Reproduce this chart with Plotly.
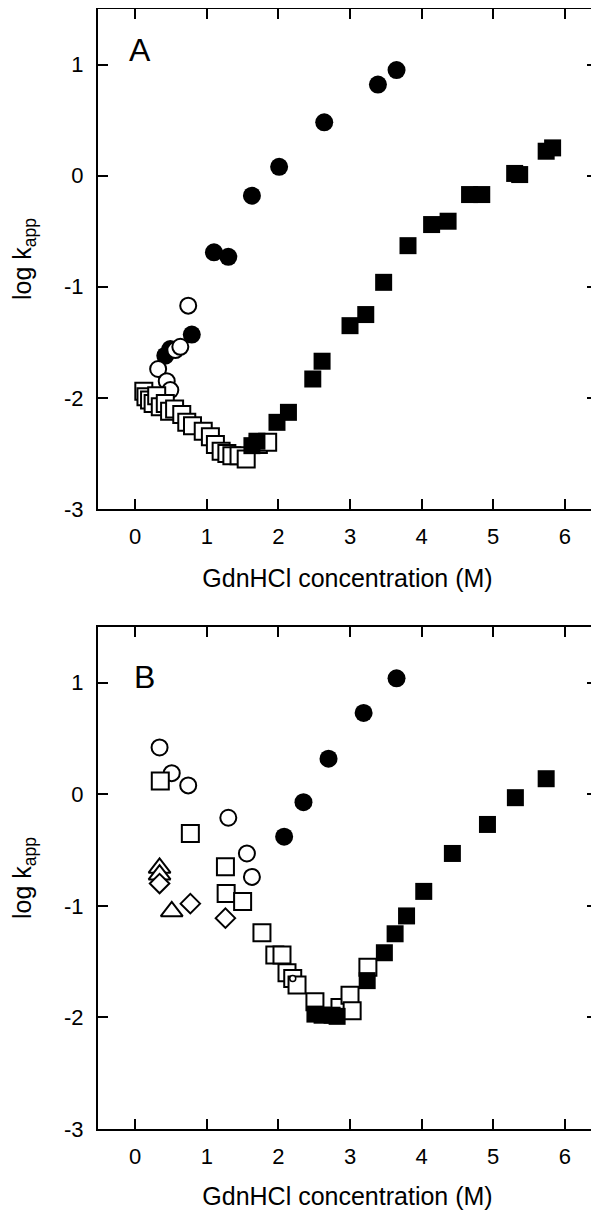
import plotly.graph_objects as go

# ---------------- Panel A data ----------------
a_filled_circle_x = [0.42, 0.49, 0.79, 1.10, 1.30, 1.63, 2.01, 2.64, 3.39, 3.65]
a_filled_circle_y = [-1.62, -1.56, -1.43, -0.69, -0.73, -0.18, 0.08, 0.48, 0.82, 0.95]

a_open_circle_x = [0.74, 0.56, 0.63, 0.32, 0.44, 0.49]
a_open_circle_y = [-1.17, -1.57, -1.54, -1.74, -1.85, -1.93]

a_open_square_x = [0.12, 0.15, 0.20, 0.25, 0.30, 0.35, 0.42, 0.48, 0.55, 0.65, 0.72,
                   0.80, 0.95, 1.05, 1.12, 1.20, 1.28, 1.35, 1.45, 1.55, 1.72, 1.85]
a_open_square_y = [-1.94, -1.99, -2.02, -2.05, -1.98, -2.08, -2.05, -2.12, -2.10, -2.15, -2.22,
                   -2.25, -2.30, -2.35, -2.42, -2.48, -2.50, -2.52, -2.52, -2.55, -2.42, -2.40]

a_filled_square_x = [1.63, 1.70, 1.98, 2.14, 2.48, 2.61, 3.00, 3.22, 3.47, 3.81, 4.14, 4.37,
                     4.67, 4.84, 5.30, 5.37, 5.74, 5.83]
a_filled_square_y = [-2.43, -2.39, -2.22, -2.13, -1.83, -1.67, -1.35, -1.25, -0.96, -0.63, -0.44, -0.41,
                     -0.17, -0.17, 0.02, 0.01, 0.22, 0.25]

# ---------------- Panel B data ----------------
b_filled_circle_x = [2.08, 2.35, 2.70, 3.19, 3.65]
b_filled_circle_y = [-0.38, -0.07, 0.32, 0.73, 1.04]

b_open_circle_x = [0.34, 0.51, 0.74, 1.30, 1.56, 1.63]
b_open_circle_y = [0.42, 0.19, 0.08, -0.21, -0.53, -0.74]

b_open_square_x = [0.35, 0.77, 1.26, 1.27, 1.50, 1.77, 1.95, 2.05, 2.12, 2.20, 2.26,
                   2.51, 2.86, 3.00, 3.03, 3.25]
b_open_square_y = [0.12, -0.35, -0.65, -0.89, -0.96, -1.24, -1.44, -1.44, -1.60, -1.65, -1.71,
                   -1.86, -1.91, -1.80, -1.94, -1.55]

b_small_circle_x = [2.20]
b_small_circle_y = [-1.65]

b_filled_square_x = [2.51, 2.61, 2.75, 2.82, 3.24, 3.48, 3.63, 3.79, 4.03, 4.43, 4.92, 5.31, 5.74]
b_filled_square_y = [-1.97, -1.98, -1.98, -1.99, -1.67, -1.42, -1.25, -1.09, -0.87, -0.53, -0.27, -0.03, 0.14]

b_triangle_x = [0.34, 0.34, 0.51]
b_triangle_y = [-0.66, -0.72, -1.05]

b_diamond_x = [0.34, 0.77, 1.26]
b_diamond_y = [-0.80, -0.98, -1.11]

x_ticks = [0, 1, 2, 3, 4, 5, 6]
x_tick_text = ["0", "1", "2", "3", "4", "5", "6"]
y_ticks = [-3, -2, -1, 0, 1]
y_tick_text = ["-3", "-2", "-1", "0", "1"]
x_title = "GdnHCl concentration (M)"
y_title = "log k<sub>app</sub>"
panel_labels = ["A", "B"]

FONT = "Liberation Sans, Arial, Helvetica, sans-serif"
BLACK = "black"

fig = go.Figure()


def filled(x, y, sym, size, xa, ya):
    fig.add_trace(go.Scatter(x=x, y=y, mode="markers", xaxis=xa, yaxis=ya,
                             marker=dict(symbol=sym, size=size, color=BLACK,
                                         line=dict(width=0))))


def hollow(x, y, sym, size, xa, ya, lw=2):
    fig.add_trace(go.Scatter(x=x, y=y, mode="markers", xaxis=xa, yaxis=ya,
                             marker=dict(symbol=sym, size=size, color="white",
                                         line=dict(width=lw, color=BLACK))))


# Panel A
filled(a_filled_circle_x, a_filled_circle_y, "circle", 18, "x", "y")
hollow(a_open_circle_x, a_open_circle_y, "circle", 16, "x", "y")
hollow(a_open_square_x, a_open_square_y, "square", 17, "x", "y")
filled(a_filled_square_x, a_filled_square_y, "square", 17, "x", "y")

# Panel B
filled(b_filled_circle_x, b_filled_circle_y, "circle", 18, "x2", "y2")
hollow(b_open_circle_x, b_open_circle_y, "circle", 16, "x2", "y2")
hollow(b_open_square_x, b_open_square_y, "square", 17, "x2", "y2")
hollow(b_small_circle_x, b_small_circle_y, "circle", 6, "x2", "y2", lw=1.5)
filled(b_filled_square_x, b_filled_square_y, "square", 17, "x2", "y2")
hollow(b_triangle_x, b_triangle_y, "triangle-up", 19, "x2", "y2")
hollow(b_diamond_x, b_diamond_y, "diamond", 15, "x2", "y2")

# page has an 8px body margin, so the figure is 8px smaller than the window
W, H = 591, 1202
OFF = 8
xdom = [(98 - OFF) / W, (597 - OFF) / W]
ydomA = [1 - (509 - OFF) / H, 1 - (9 - OFF) / H]
ydomB = [1 - (1129 - OFF) / H, 1 - (627 - OFF) / H]

axis_common = dict(showline=True, linecolor=BLACK, linewidth=2, mirror="ticks",
                   ticks="inside", ticklen=10, tickwidth=2, tickcolor=BLACK,
                   showgrid=False, zeroline=False, automargin=False,
                   tickfont=dict(family=FONT, size=22, color=BLACK))

xr = [-0.52, 6.45]
yr = [-3, 1.5]


def xaxis_def(dom_anchor):
    return dict(domain=xdom, anchor=dom_anchor, range=xr, tickvals=x_ticks,
                ticktext=x_tick_text, ticklabelstandoff=7,
                title=dict(text=x_title, font=dict(family=FONT, size=25), standoff=21),
                **axis_common)


def yaxis_def(dom, anchor):
    return dict(domain=dom, anchor=anchor, range=yr, tickvals=y_ticks,
                ticktext=y_tick_text, ticklabelstandoff=8,
                title=dict(text=y_title, font=dict(family=FONT, size=25), standoff=30),
                **axis_common)


fig.update_layout(
    width=W, height=H, showlegend=False,
    margin=dict(l=0, r=0, t=0, b=0),
    paper_bgcolor="white", plot_bgcolor="white",
    font=dict(family=FONT, color=BLACK),
    xaxis=xaxis_def("y"),
    yaxis=yaxis_def(ydomA, "x"),
    xaxis2=xaxis_def("y2"),
    yaxis2=yaxis_def(ydomB, "x2"),
)

fig.add_annotation(x=-0.11, y=1.13, xref="x", yref="y", text=panel_labels[0],
                   showarrow=False, xanchor="left", yanchor="middle",
                   font=dict(family=FONT, size=32, color=BLACK))
fig.add_annotation(x=-0.04, y=1.05, xref="x2", yref="y2", text=panel_labels[1],
                   showarrow=False, xanchor="left", yanchor="middle",
                   font=dict(family=FONT, size=32, color=BLACK))

fig.write_html("out.html")
